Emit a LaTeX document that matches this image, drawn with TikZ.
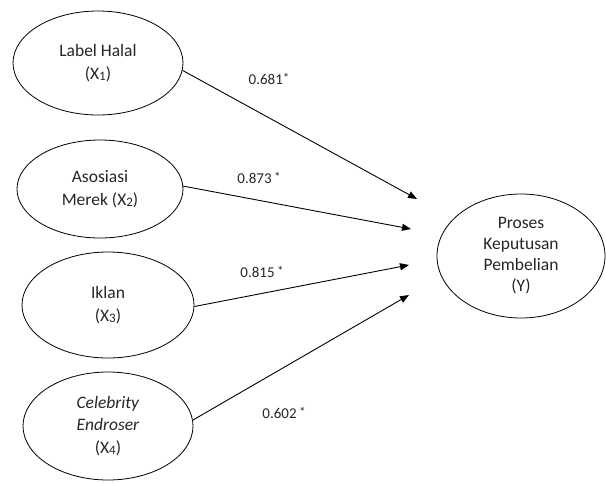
\documentclass[tikz,border=0pt]{standalone}
\usepackage{fontspec}
\setmainfont{Carlito}
\usetikzlibrary{shapes.geometric,arrows.meta}
\definecolor{txt}{HTML}{262626}
\tikzset{
  var/.style={draw, ellipse, inner sep=0pt, line width=0.8pt, align=center,
    text=txt, font=\fontsize{17.5}{22.5}\selectfont},
  coef/.style={text=txt, font=\fontsize{15}{17}\selectfont, inner sep=1pt},
  path/.style={draw, line width=0.9pt, -{Triangle[length=9pt,width=7pt]}}
}
\newcommand{\sx}[1]{\raisebox{-0.15ex}{\fontsize{13}{15}\selectfont #1}}
\newcommand{\st}{\raisebox{0.25ex}{\fontsize{13}{14}\selectfont *}}
\begin{document}
\begin{tikzpicture}[x=1pt,y=-1pt]
\useasboundingbox (0,0) rectangle (606,483);
\node[var, minimum width=170pt, minimum height=104pt] (e1) at (98,63) {Label Halal\\(X\sx{1})};
\node[var, minimum width=166pt, minimum height=98pt] (e2) at (100,189) {Asosiasi\\Merek (X\sx{2})};
\node[var, minimum width=172pt, minimum height=106pt] (e3) at (108,305) {Iklan\\(X\sx{3})};
\node[var, minimum width=170pt, minimum height=108pt] (e4) at (108,426) {\textit{Celebrity}\\\textit{Endroser}\\(X\sx{4})};
\node[var, minimum width=168pt, minimum height=124pt, font=\fontsize{17.5}{21}\selectfont] (y) at (521,256) {Proses\\Keputusan\\Pembelian\\(Y)};
\coordinate (t1) at (417,199);
\coordinate (t2) at (411,229);
\coordinate (t3) at (409,265);
\coordinate (t4) at (409,295);
\draw[path] (e1.-5) -- (t1);
\draw[path] (e2.2) -- (t2);
\draw[path] (e3.-1) -- (t3);
\draw[path] (e4.4) -- (t4);
\node[coef] (c1) at (269,79) {0.681\st};
\node[coef] (c2) at (259,178) {0.873\,\st};
\node[coef] (c3) at (262,272) {0.815\,\st};
\node[coef] (c4) at (284,413) {0.602\,\st};
\end{tikzpicture}
\end{document}
